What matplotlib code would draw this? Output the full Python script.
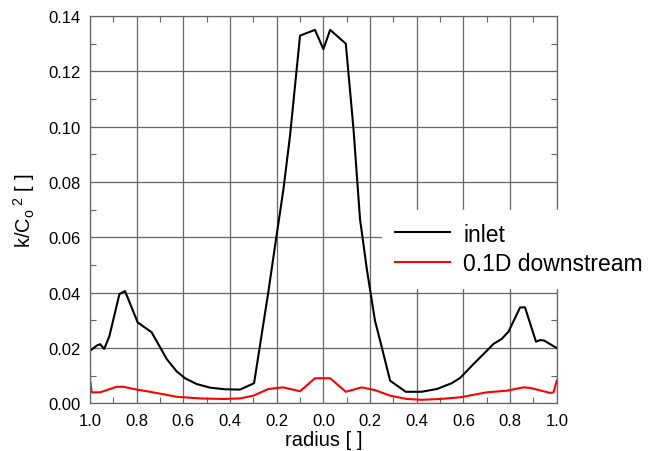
import matplotlib
matplotlib.use('Agg')
import matplotlib.pyplot as plt
from matplotlib.ticker import MultipleLocator, FuncFormatter

# radius runs from -1 (one wall) through 0 (axis) to +1 (other wall)
inlet_r = [-1.0, -0.971, -0.957, -0.939, -0.917, -0.874, -0.85, -0.796, -0.736,
           -0.671, -0.629, -0.593, -0.543, -0.486, -0.421, -0.357, -0.297,
           -0.236, -0.207, -0.171, -0.143, -0.1, -0.036, 0.0, 0.029, 0.096,
           0.129, 0.157, 0.186, 0.221, 0.243, 0.286, 0.353, 0.421, 0.486,
           0.55, 0.586, 0.643, 0.7, 0.729, 0.764, 0.793, 0.843, 0.864, 0.911,
           0.929, 0.946, 1.0]
inlet_k = [0.0190, 0.0209, 0.0214, 0.0197, 0.0243, 0.0395, 0.0406, 0.0293, 0.0257,
           0.0160, 0.0116, 0.0091, 0.0070, 0.0057, 0.0051, 0.0050, 0.0073,
           0.0402, 0.0570, 0.0775, 0.0967, 0.1329, 0.1350, 0.1280, 0.1350, 0.1300,
           0.0992, 0.0666, 0.0486, 0.0299, 0.0227, 0.0082, 0.0042, 0.0042, 0.0052,
           0.0073, 0.0092, 0.0142, 0.0190, 0.0215, 0.0233, 0.0259, 0.0347, 0.0347, 0.0223,
           0.0229, 0.0227, 0.0200]

down_r = [-1.0, -0.993, -0.957, -0.886, -0.857, -0.8, -0.743, -0.629, -0.529,
          -0.429, -0.357, -0.3, -0.236, -0.174, -0.1, -0.036, 0.029, 0.096,
          0.164, 0.221, 0.286, 0.357, 0.421, 0.5, 0.586, 0.7, 0.786, 0.857,
          0.886, 0.971, 0.986, 1.0]
down_k = [0.0086, 0.0040, 0.0040, 0.0060, 0.0060, 0.0050, 0.0042, 0.0024, 0.0018,
          0.0016, 0.0018, 0.0028, 0.0052, 0.0058, 0.0044, 0.0091, 0.0091, 0.0042,
          0.0058, 0.0048, 0.0028, 0.0016, 0.0013, 0.0016, 0.0022, 0.0040, 0.0046, 0.0058,
          0.0056, 0.0038, 0.0040, 0.0082]

plt.rcParams['font.family'] = ['Liberation Sans', 'DejaVu Sans']
plt.rcParams['mathtext.fontset'] = 'custom'
plt.rcParams['mathtext.rm'] = 'Liberation Sans'
plt.rcParams['mathtext.it'] = 'Liberation Sans'

fig = plt.figure(figsize=(6.48, 4.52), dpi=100)
ax = fig.add_axes([0.1389, 0.1053, 0.7203, 0.8571])

ax.plot(inlet_r, inlet_k, color='black', lw=1.5, label='inlet')
ax.plot(down_r, down_k, color='red', lw=1.5, label='0.1D downstream')

ax.set_xlim(-1, 1)
ax.set_ylim(0, 0.14)
ax.xaxis.set_major_locator(MultipleLocator(0.2))
ax.xaxis.set_minor_locator(MultipleLocator(0.1))
ax.yaxis.set_major_locator(MultipleLocator(0.02))
ax.yaxis.set_minor_locator(MultipleLocator(0.01))
ax.xaxis.set_major_formatter(FuncFormatter(lambda v, p: '%.1f' % abs(v)))
ax.yaxis.set_major_formatter(FuncFormatter(lambda v, p: '%.2f' % v))
ax.tick_params(which='both', direction='in', top=True, right=True,
               color='0.4', labelsize=12, pad=7)
ax.tick_params(which='major', length=0)
ax.tick_params(which='minor', length=4, width=0.8)
ax.grid(True, which='major', color='0.4', lw=0.9)
for s in ax.spines.values():
    s.set_color('0.4')
    s.set_linewidth(0.9)

ax.set_xlabel('radius [ ]', fontsize=14.5, labelpad=1)
ax.set_ylabel(r'k/C$_{\mathrm{o}}$$^{\ 2}$ [ ]', fontsize=14.5, labelpad=8)

leg = ax.legend(loc='center left', bbox_to_anchor=(382 / 648, 0.447),
                bbox_transform=fig.transFigure, fontsize=16.5, frameon=True,
                fancybox=False, facecolor='white', edgecolor='white', framealpha=1,
                handlelength=2.4, handletextpad=0.6, labelspacing=0.3,
                borderpad=0.55, borderaxespad=0)
leg.set_zorder(5)

fig.savefig('out.png', dpi=100)
